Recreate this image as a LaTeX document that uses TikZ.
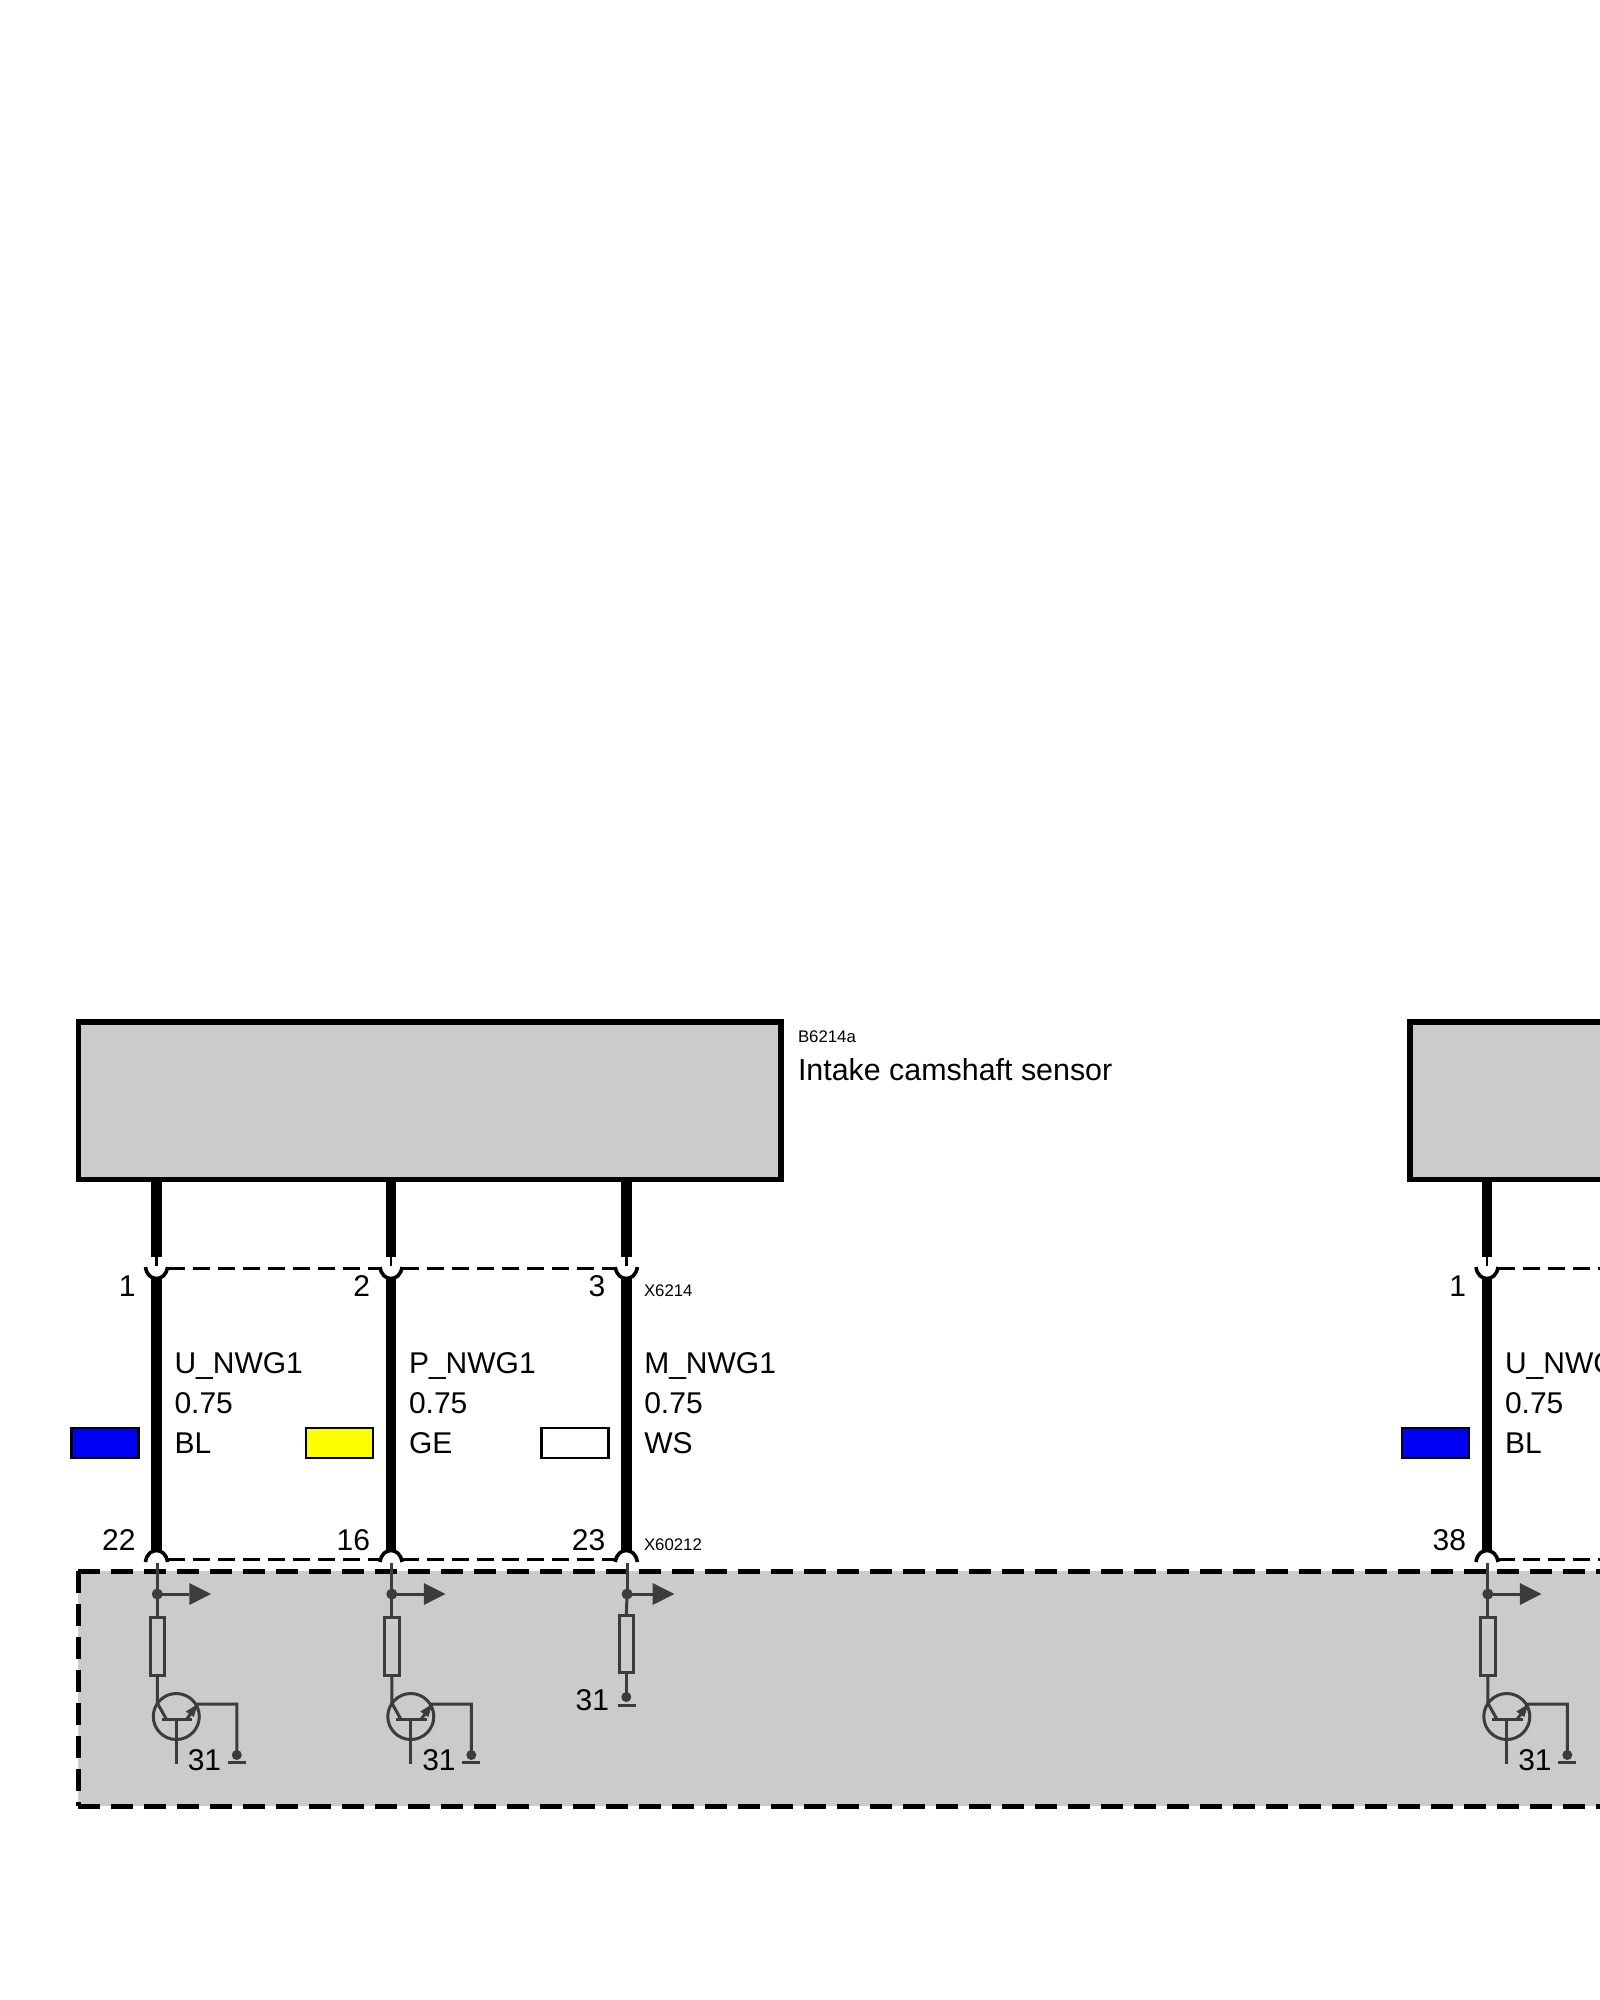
\documentclass[tikz,border=0pt]{standalone}
\usepackage{fontspec}
\setmainfont{Liberation Sans}
\usetikzlibrary{calc}
\definecolor{boxgray}{HTML}{CBCBCB}
\definecolor{circ}{HTML}{3C3C3C}
\definecolor{swblue}{HTML}{0000F5}
\definecolor{swyellow}{HTML}{FFFF00}
\tikzset{
  unit/.style={draw=black,line width=5.5pt,fill=boxgray,inner sep=0pt,outer sep=0pt},
  wire/.style={draw=black,line width=10.8pt},
  thinblack/.style={draw=black,line width=2.4pt},
  cup/.style={draw=black,line width=3.6pt},
  conn/.style={draw=black,line width=3pt,dash pattern=on 17pt off 8pt},
  border/.style={draw=black,line width=5pt,dash pattern=on 22pt off 11pt},
  circuit/.style={draw=circ,line width=3pt},
  big/.style={font=\fontsize{30}{32}\selectfont,inner sep=0pt,outer sep=0pt,text=black},
  small/.style={font=\fontsize{16.8}{18}\selectfont,inner sep=0pt,outer sep=0pt,text=black},
  swatch/.style={draw=black,line width=2.5pt,inner sep=0pt,outer sep=0pt,minimum width=67pt,minimum height=30pt},
  resistor/.style={draw=circ,line width=3pt,inner sep=0pt,outer sep=0pt,minimum width=14.5pt},
  jdot/.style={circle,fill=circ,inner sep=0pt,outer sep=0pt,minimum size=11pt},
}
\begin{document}
\begin{tikzpicture}[x=1pt,y=-1pt]
\useasboundingbox (0,0) rectangle (1600,2000);
\clip (0,0) rectangle (1600,2000);
\fill[white] (0,0) rectangle (1600,2000);
% control unit background
\fill[boxgray] (78,1571) rectangle (1610,1806);
\draw[border] (78,1571) -- (1610,1571);
\draw[border] (78,1571) -- (78,1806);
\draw[border] (78,1806) -- (1610,1806);
% sensor boxes
\node[unit,minimum width=702.5pt,minimum height=157.5pt] (sensorA) at (429.95,1100.75) {};
\node[unit,minimum width=300pt,minimum height=157.5pt] (sensorB) at (1560,1100.75) {};
\node[small,anchor=base west] (sensorAid) at (798,1042) {B6214a};
\node[big,font=\fontsize{30.4}{32}\selectfont,anchor=base west] (sensorAname) at (798,1080) {Intake camshaft sensor};
\node[small,anchor=base west] (xa) at (644,1296) {X6214};
\node[small,anchor=base west] (xb) at (644,1550) {X60212};
% connector rows
\foreach \n/\x/\topn/\botn/\sig/\col/\colname/\ar in {
  a/156.5/1/22/U\_NWG1/swblue/BL/0,
  b/391/2/16/P\_NWG1/swyellow/GE/0,
  c/626.3/3/23/M\_NWG1/white/WS/-6.5,
  d/1487/1/38/U\_NWG1/swblue/BL/0}{
  \coordinate (\n1) at (\x,1180);
  \coordinate (\n2) at (\x,1257);
  \coordinate (\n3) at (\x,1277);
  \coordinate (\n4) at (\x,1551);
  \draw[wire] (\n1) -- (\n2);
  \draw[wire] (\n3) -- (\n4);
  \draw[thinblack] (\x,1257) -- (\x,1266);
  \draw[cup] (\x-11,1267) .. controls (\x-10,1275) and (\x-5,1278.5) .. (\x,1278.5) .. controls (\x+5,1278.5) and (\x+10,1275) .. (\x+11,1267);
  \draw[cup] (\x-11,1562) .. controls (\x-10,1554) and (\x-5,1550.5) .. (\x,1550.5) .. controls (\x+5,1550.5) and (\x+10,1554) .. (\x+11,1562);
  \node[big,anchor=base east] (top\n) at (\x-21,1296) {\topn};
  \node[big,anchor=base east] (bot\n) at (\x-21,1550) {\botn};
  \node[big,anchor=base west] (sig\n) at (\x+18,1373) {\sig};
  \node[big,anchor=base west] (size\n) at (\x+18,1413) {0.75};
  \node[big,anchor=base west] (colname\n) at (\x+18,1453) {\colname};
  \node[swatch,fill=\col] (sw\n) at (\x-51.5,1443) {};
  % tap with arrow
  \node[jdot] (dot\n) at (\x+0.8,1594) {};
  \draw[circuit] (\x+0.8,1563) -- (dot\n.center);
  \coordinate (tip\n) at (\x+54.5+\ar,1594);
  \coordinate (tail\n) at (\x+32.8+\ar,1594);
  \draw[circuit] (dot\n.center) -- (tail\n);
  \fill[circ] (\x+32.8+\ar,1583) -- (tip\n) -- (\x+32.8+\ar,1605) -- cycle;
}
% dashed connector lines
\draw[conn] (167.5,1268) -- (380,1268);
\draw[conn] (402,1268) -- (615.3,1268);
\draw[conn] (1498,1268) -- (1610,1268);
\draw[conn] (167.5,1559) -- (380,1559);
\draw[conn] (402,1559) -- (615.3,1559);
\draw[conn] (1498,1559) -- (1610,1559);
% transistor stages
\foreach \n/\x in {a/157.3,b/391.8,d/1487.8}{
  \node[resistor,minimum height=58pt] (res\n) at (\x,1646) {};
  \draw[circuit] (dot\n.center) -- (res\n.north);
  \coordinate (c\n) at (\x,1703);
  \draw[circuit] (res\n.south) -- (c\n) -- (\x+9,1719);
  \node[circle,draw=circ,line width=3pt,inner sep=0pt,outer sep=0pt,minimum size=46pt] (q\n) at (\x+19,1716.5) {};
  \draw[circuit] (\x+4.5,1719) -- (\x+35,1719);
  \draw[circuit] (\x+19,1719) -- (\x+19,1764);
  \draw[circuit] (\x+29.5,1719) -- (\x+40.5,1704) -- (\x+79.5,1704) -- (\x+79.5,1755);
  \fill[circ] (\x+40.5,1704) -- (\x+28.5,1711.5) -- (\x+36.5,1717) -- cycle;
  \node[jdot,minimum size=10pt] (g\n) at (\x+79.5,1755) {};
  \draw[circuit] (\x+70.5,1762) -- (\x+88.5,1762);
  \node[big,anchor=base west] (gl\n) at (\x+30.5,1770) {31};
}
% resistor to ground
\node[resistor,minimum height=57pt] (resc) at (626.3,1643.5) {};
\draw[circuit] (dotc.center) -- (resc.north);
\node[jdot,minimum size=10pt] (gc) at (626.3,1697) {};
\draw[circuit] (resc.south) -- (gc.center);
\draw[circuit] (617.5,1705) -- (635.5,1705);
\node[big,anchor=base east] (glc) at (609,1710) {31};
\end{tikzpicture}
\end{document}
